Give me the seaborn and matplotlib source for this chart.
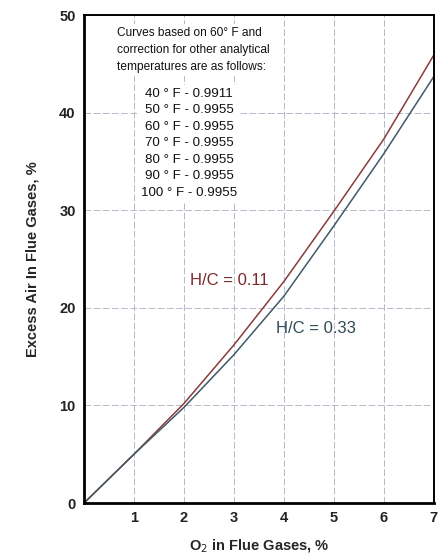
import matplotlib
matplotlib.use("Agg")
import matplotlib.pyplot as plt
import seaborn as sns
import pandas as pd

# Data
o2_hc011 = [0.0, 1.0, 2.0, 3.0, 4.0, 5.0, 6.0, 7.0]
ea_hc011 = [0.0, 5.0, 10.2, 16.2, 22.7, 29.9, 37.3, 45.9]
o2_hc033 = [0.0, 1.0, 2.0, 3.0, 4.0, 5.0, 6.0, 7.0]
ea_hc033 = [0.0, 5.0, 9.8, 15.2, 21.2, 28.4, 35.8, 43.7]
series_labels = ["H/C = 0.11", "H/C = 0.33"]
x_ticks = [1, 2, 3, 4, 5, 6, 7]
y_ticks = [0, 10, 20, 30, 40, 50]
note_lines = ["Curves based on 60\u00b0 F and",
              "correction for other analytical",
              "temperatures are as follows:"]
corrections = ["40 \u00b0 F - 0.9911", "50 \u00b0 F - 0.9955", "60 \u00b0 F - 0.9955",
               "70 \u00b0 F - 0.9955", "80 \u00b0 F - 0.9955", "90 \u00b0 F - 0.9955",
               "100 \u00b0 F - 0.9955"]

df = pd.concat([
    pd.DataFrame({"o2": o2_hc011, "ea": ea_hc011, "series": series_labels[0]}),
    pd.DataFrame({"o2": o2_hc033, "ea": ea_hc033, "series": series_labels[1]}),
])

sns.set_theme(style="white")
plt.rcParams['font.family'] = ['Liberation Sans', 'DejaVu Sans']

fig = plt.figure(figsize=(4.4, 5.56), dpi=100)
ax = fig.add_axes([0.191, 0.0953, 0.795, 0.8777])

colors = {series_labels[0]: "#8a3b3b", series_labels[1]: "#3f5a66"}
sns.lineplot(data=df, x="o2", y="ea", hue="series", palette=colors,
             sort=False, estimator=None, linewidth=1.1, legend=False, ax=ax)

ax.set_xlim(0, 7)
ax.set_ylim(0, 50)
ax.set_xticks(x_ticks)
ax.set_yticks(y_ticks)
ax.grid(True, color="#a8b0c0", linestyle=(0, (8, 3)), linewidth=0.6)
for side in ["left", "bottom"]:
    ax.spines[side].set_linewidth(2.0)
for side in ["top", "right"]:
    ax.spines[side].set_linewidth(1.4)
for s in ax.spines.values():
    s.set_color("black")
ax.tick_params(axis="both", length=0, labelsize=10.5, pad=6)
for lbl in ax.get_xticklabels() + ax.get_yticklabels():
    lbl.set_fontweight("bold")
    lbl.set_color("#222222")

ax.set_xlabel("O$_2$ in Flue Gases, %", fontsize=10.5, fontweight="bold", labelpad=9)
ax.set_ylabel("Excess Air In Flue Gases, %", fontsize=10.5, fontweight="bold", labelpad=14)

# note block
ax.text(0.095, 0.975, "\n".join(note_lines), transform=ax.transAxes,
        ha="left", va="top", fontsize=8.6, linespacing=1.55, color="#111111",
        bbox=dict(facecolor="white", edgecolor="none", pad=2))
ax.text(0.30, 0.851, "\n".join(corrections), transform=ax.transAxes,
        ha="center", va="top", fontsize=9.6, linespacing=1.5, color="#111111",
        bbox=dict(facecolor="white", edgecolor="none", pad=2))

ax.text(2.12, 22.8, series_labels[0], color="#7a2a2a", fontsize=12, ha="left", va="center")
ax.text(3.84, 17.9, series_labels[1], color="#2f4a56", fontsize=12, ha="left", va="center")

fig.savefig("out.png", dpi=100)
